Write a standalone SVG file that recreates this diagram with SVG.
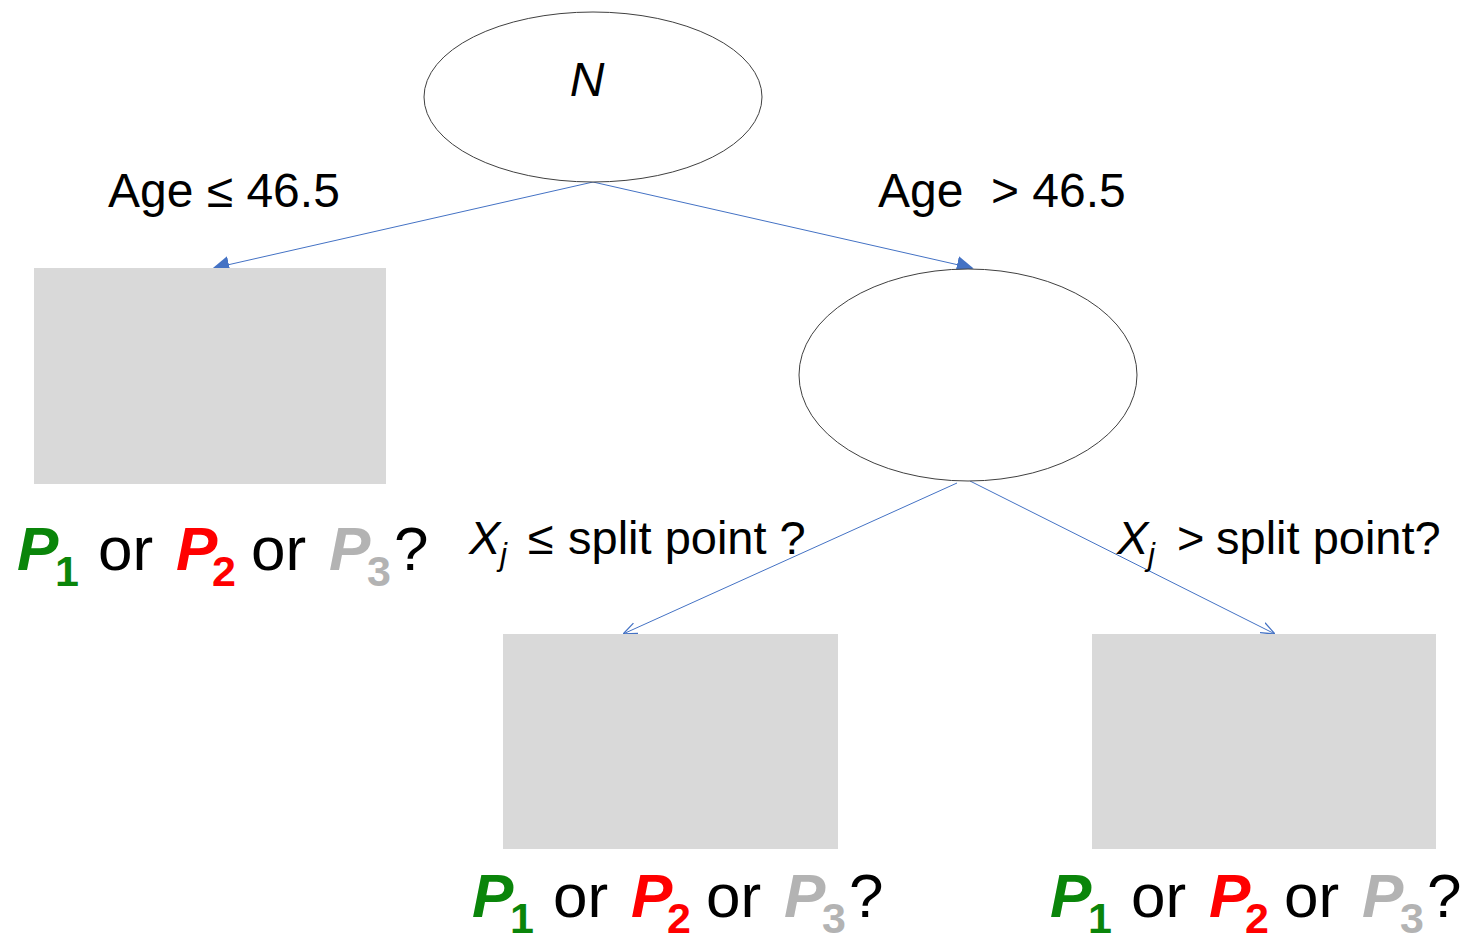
<svg xmlns="http://www.w3.org/2000/svg" width="1477" height="933" viewBox="0 0 1477 933">
<style>
.t{font-family:"Liberation Sans",Arial,sans-serif;fill:#000}
.lab{font-size:48px}
.lab2{font-size:47px}
.pb{font-size:62px;font-weight:bold;font-style:italic}
.ps{font-size:43px;font-weight:bold}
.or{font-size:62px}
.g{fill:#0a850a}.r{fill:#ff0000}.y{fill:#b3b3b3}
.node{fill:#fff;stroke:#404040;stroke-width:1}
.box{fill:#d9d9d9}
.con{stroke:#4472c4;stroke-width:1;fill:none}
</style>
<defs>
<marker id="fa" viewBox="0 0 10 10" refX="9" refY="5" markerWidth="17" markerHeight="17" markerUnits="userSpaceOnUse" orient="auto">
<path d="M0,0 L10,5 L0,10 z" fill="#4472c4"/>
</marker>
<marker id="oa" viewBox="0 0 10 10" refX="10" refY="5" markerWidth="14" markerHeight="14" markerUnits="userSpaceOnUse" orient="auto">
<path d="M0,1 L10,5 L0,9" fill="none" stroke="#4472c4" stroke-width="0.9"/>
</marker>
<g id="plabel">
<text class="t pb g" x="-3" y="0">P</text>
<text class="t ps g" x="35" y="16">1</text>
<text class="t or" x="78" y="0">or</text>
<text class="t pb r" x="156" y="0">P</text>
<text class="t ps r" x="192" y="16">2</text>
<text class="t or" x="231" y="0">or</text>
<text class="t pb y" x="309" y="0">P</text>
<text class="t ps y" x="347" y="16">3</text>
<text class="t or" x="374" y="0">?</text>
</g>
</defs>
<g id="connectors">
<line class="con" x1="593" y1="182" x2="214" y2="268" marker-end="url(#fa)"/>
<line class="con" x1="593" y1="182" x2="972" y2="268" marker-end="url(#fa)"/>
<line class="con" x1="957" y1="483" x2="623" y2="634" marker-end="url(#oa)"/>
<line class="con" x1="970" y1="481" x2="1275" y2="634" marker-end="url(#oa)"/>
</g>
<g id="root">
<ellipse class="node" cx="593" cy="97" rx="169" ry="85"/>
<text class="t" x="587" y="96" font-size="48" font-style="italic" text-anchor="middle">N</text>
</g>
<g id="leaf-left">
<rect class="box" x="34" y="268" width="352" height="216"/>
<use href="#plabel" x="20" y="570"/>
</g>
<g id="node-right">
<ellipse class="node" cx="968" cy="375" rx="169" ry="106"/>
</g>
<g id="leaf-mid">
<rect class="box" x="503" y="634" width="335" height="215"/>
<use href="#plabel" x="475" y="917"/>
</g>
<g id="leaf-right">
<rect class="box" x="1092" y="634" width="344" height="215"/>
<use href="#plabel" x="1053" y="917"/>
</g>
<g id="edge-labels">
<text class="t lab" x="108" y="207">Age ≤ 46.5</text>
<text class="t lab" x="878" y="207">Age</text>
<text class="t lab" x="991" y="207">&gt; 46.5</text>
<text class="t lab2" x="469" y="554" font-style="italic">X</text>
<text class="t" x="500" y="565" font-size="31" font-style="italic">j</text>
<text class="t lab2" x="528" y="554">≤</text>
<text class="t lab2" x="568" y="554">split point ?</text>
<text class="t lab2" x="1117" y="554" font-style="italic">X</text>
<text class="t" x="1148" y="565" font-size="31" font-style="italic">j</text>
<text class="t lab2" x="1177" y="554">&gt;</text>
<text class="t lab2" x="1216" y="554">split point?</text>
</g>
</svg>
